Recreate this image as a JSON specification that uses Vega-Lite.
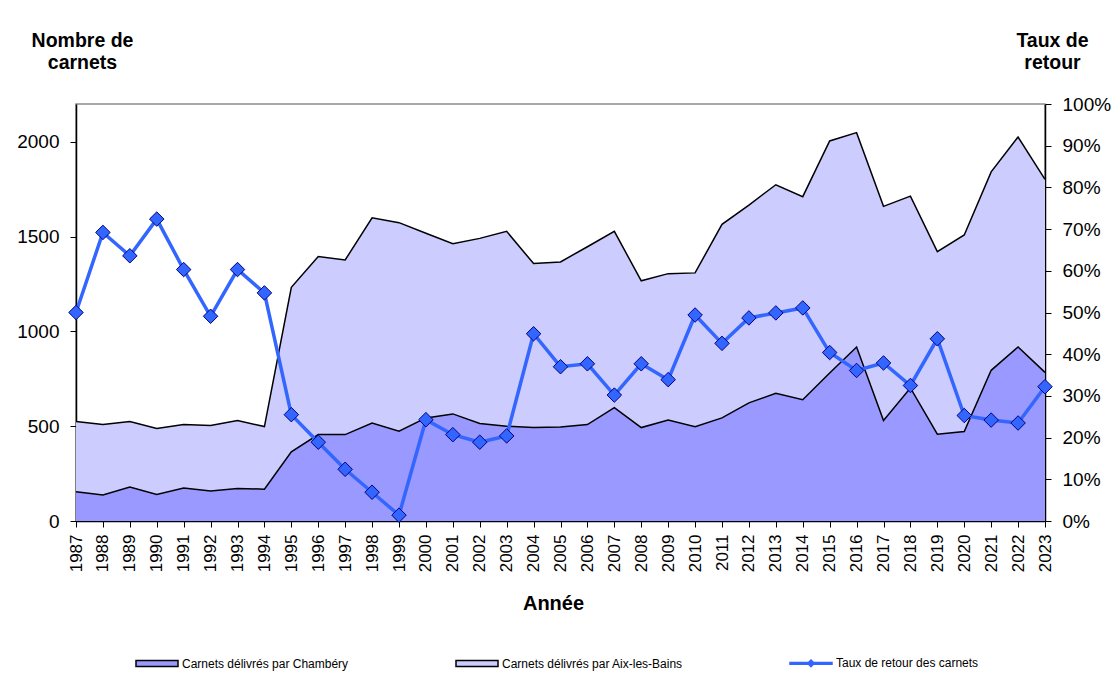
{
  "$schema": "https://vega.github.io/schema/vega-lite/v6.json",
  "width": 969,
  "height": 417,
  "autosize": {"type": "none"},
  "padding": {"left": 76, "top": 104, "right": 68, "bottom": 172},
  "background": "white",
  "config": {
    "font": "Liberation Sans",
    "view": {"stroke": "#8c8c8c", "strokeWidth": 1.5},
    "axis": {
      "grid": false,
      "domainColor": "black",
      "domainWidth": 1.5,
      "tickColor": "black",
      "tickSize": 6,
      "tickWidth": 1,
      "labelColor": "black",
      "titleColor": "black",
      "labelFont": "Liberation Sans",
      "titleFont": "Liberation Sans"
    }
  },
  "datasets": {
    "carnets": [
      {"annee": 1987, "serie": "Carnets délivrés par Chambéry", "n": 154},
      {"annee": 1987, "serie": "Carnets délivrés par Aix-les-Bains", "n": 371},
      {"annee": 1988, "serie": "Carnets délivrés par Chambéry", "n": 137},
      {"annee": 1988, "serie": "Carnets délivrés par Aix-les-Bains", "n": 372},
      {"annee": 1989, "serie": "Carnets délivrés par Chambéry", "n": 179},
      {"annee": 1989, "serie": "Carnets délivrés par Aix-les-Bains", "n": 346},
      {"annee": 1990, "serie": "Carnets délivrés par Chambéry", "n": 140},
      {"annee": 1990, "serie": "Carnets délivrés par Aix-les-Bains", "n": 348},
      {"annee": 1991, "serie": "Carnets délivrés par Chambéry", "n": 174},
      {"annee": 1991, "serie": "Carnets délivrés par Aix-les-Bains", "n": 335},
      {"annee": 1992, "serie": "Carnets délivrés par Chambéry", "n": 158},
      {"annee": 1992, "serie": "Carnets délivrés par Aix-les-Bains", "n": 346},
      {"annee": 1993, "serie": "Carnets délivrés par Chambéry", "n": 172},
      {"annee": 1993, "serie": "Carnets délivrés par Aix-les-Bains", "n": 358},
      {"annee": 1994, "serie": "Carnets délivrés par Chambéry", "n": 168},
      {"annee": 1994, "serie": "Carnets délivrés par Aix-les-Bains", "n": 330},
      {"annee": 1995, "serie": "Carnets délivrés par Chambéry", "n": 365},
      {"annee": 1995, "serie": "Carnets délivrés par Aix-les-Bains", "n": 868},
      {"annee": 1996, "serie": "Carnets délivrés par Chambéry", "n": 456},
      {"annee": 1996, "serie": "Carnets délivrés par Aix-les-Bains", "n": 939},
      {"annee": 1997, "serie": "Carnets délivrés par Chambéry", "n": 456},
      {"annee": 1997, "serie": "Carnets délivrés par Aix-les-Bains", "n": 921},
      {"annee": 1998, "serie": "Carnets délivrés par Chambéry", "n": 517},
      {"annee": 1998, "serie": "Carnets délivrés par Aix-les-Bains", "n": 1083},
      {"annee": 1999, "serie": "Carnets délivrés par Chambéry", "n": 474},
      {"annee": 1999, "serie": "Carnets délivrés par Aix-les-Bains", "n": 1100},
      {"annee": 2000, "serie": "Carnets délivrés par Chambéry", "n": 544},
      {"annee": 2000, "serie": "Carnets délivrés par Aix-les-Bains", "n": 974},
      {"annee": 2001, "serie": "Carnets délivrés par Chambéry", "n": 565},
      {"annee": 2001, "serie": "Carnets délivrés par Aix-les-Bains", "n": 898},
      {"annee": 2002, "serie": "Carnets délivrés par Chambéry", "n": 514},
      {"annee": 2002, "serie": "Carnets délivrés par Aix-les-Bains", "n": 977},
      {"annee": 2003, "serie": "Carnets délivrés par Chambéry", "n": 500},
      {"annee": 2003, "serie": "Carnets délivrés par Aix-les-Bains", "n": 1028},
      {"annee": 2004, "serie": "Carnets délivrés par Chambéry", "n": 493},
      {"annee": 2004, "serie": "Carnets délivrés par Aix-les-Bains", "n": 865},
      {"annee": 2005, "serie": "Carnets délivrés par Chambéry", "n": 496},
      {"annee": 2005, "serie": "Carnets délivrés par Aix-les-Bains", "n": 871},
      {"annee": 2006, "serie": "Carnets délivrés par Chambéry", "n": 509},
      {"annee": 2006, "serie": "Carnets délivrés par Aix-les-Bains", "n": 938},
      {"annee": 2007, "serie": "Carnets délivrés par Chambéry", "n": 598},
      {"annee": 2007, "serie": "Carnets délivrés par Aix-les-Bains", "n": 930},
      {"annee": 2008, "serie": "Carnets délivrés par Chambéry", "n": 493},
      {"annee": 2008, "serie": "Carnets délivrés par Aix-les-Bains", "n": 774},
      {"annee": 2009, "serie": "Carnets délivrés par Chambéry", "n": 533},
      {"annee": 2009, "serie": "Carnets délivrés par Aix-les-Bains", "n": 772},
      {"annee": 2010, "serie": "Carnets délivrés par Chambéry", "n": 498},
      {"annee": 2010, "serie": "Carnets délivrés par Aix-les-Bains", "n": 811},
      {"annee": 2011, "serie": "Carnets délivrés par Chambéry", "n": 544},
      {"annee": 2011, "serie": "Carnets délivrés par Aix-les-Bains", "n": 1021},
      {"annee": 2012, "serie": "Carnets délivrés par Chambéry", "n": 623},
      {"annee": 2012, "serie": "Carnets délivrés par Aix-les-Bains", "n": 1044},
      {"annee": 2013, "serie": "Carnets délivrés par Chambéry", "n": 674},
      {"annee": 2013, "serie": "Carnets délivrés par Aix-les-Bains", "n": 1100},
      {"annee": 2014, "serie": "Carnets délivrés par Chambéry", "n": 640},
      {"annee": 2014, "serie": "Carnets délivrés par Aix-les-Bains", "n": 1071},
      {"annee": 2015, "serie": "Carnets délivrés par Chambéry", "n": 781},
      {"annee": 2015, "serie": "Carnets délivrés par Aix-les-Bains", "n": 1224},
      {"annee": 2016, "serie": "Carnets délivrés par Chambéry", "n": 918},
      {"annee": 2016, "serie": "Carnets délivrés par Aix-les-Bains", "n": 1131},
      {"annee": 2017, "serie": "Carnets délivrés par Chambéry", "n": 530},
      {"annee": 2017, "serie": "Carnets délivrés par Aix-les-Bains", "n": 1130},
      {"annee": 2018, "serie": "Carnets délivrés par Chambéry", "n": 702},
      {"annee": 2018, "serie": "Carnets délivrés par Aix-les-Bains", "n": 1012},
      {"annee": 2019, "serie": "Carnets délivrés par Chambéry", "n": 458},
      {"annee": 2019, "serie": "Carnets délivrés par Aix-les-Bains", "n": 963},
      {"annee": 2020, "serie": "Carnets délivrés par Chambéry", "n": 472},
      {"annee": 2020, "serie": "Carnets délivrés par Aix-les-Bains", "n": 1037},
      {"annee": 2021, "serie": "Carnets délivrés par Chambéry", "n": 795},
      {"annee": 2021, "serie": "Carnets délivrés par Aix-les-Bains", "n": 1047},
      {"annee": 2022, "serie": "Carnets délivrés par Chambéry", "n": 918},
      {"annee": 2022, "serie": "Carnets délivrés par Aix-les-Bains", "n": 1108},
      {"annee": 2023, "serie": "Carnets délivrés par Chambéry", "n": 784},
      {"annee": 2023, "serie": "Carnets délivrés par Aix-les-Bains", "n": 1018}
    ],
    "taux": [
      {"annee": 1987, "taux": 0.500},
      {"annee": 1988, "taux": 0.692},
      {"annee": 1989, "taux": 0.636},
      {"annee": 1990, "taux": 0.724},
      {"annee": 1991, "taux": 0.603},
      {"annee": 1992, "taux": 0.491},
      {"annee": 1993, "taux": 0.603},
      {"annee": 1994, "taux": 0.547},
      {"annee": 1995, "taux": 0.255},
      {"annee": 1996, "taux": 0.189},
      {"annee": 1997, "taux": 0.124},
      {"annee": 1998, "taux": 0.069},
      {"annee": 1999, "taux": 0.014},
      {"annee": 2000, "taux": 0.243},
      {"annee": 2001, "taux": 0.207},
      {"annee": 2002, "taux": 0.189},
      {"annee": 2003, "taux": 0.204},
      {"annee": 2004, "taux": 0.449},
      {"annee": 2005, "taux": 0.370},
      {"annee": 2006, "taux": 0.377},
      {"annee": 2007, "taux": 0.302},
      {"annee": 2008, "taux": 0.377},
      {"annee": 2009, "taux": 0.339},
      {"annee": 2010, "taux": 0.494},
      {"annee": 2011, "taux": 0.426},
      {"annee": 2012, "taux": 0.487},
      {"annee": 2013, "taux": 0.499},
      {"annee": 2014, "taux": 0.511},
      {"annee": 2015, "taux": 0.404},
      {"annee": 2016, "taux": 0.361},
      {"annee": 2017, "taux": 0.379},
      {"annee": 2018, "taux": 0.325},
      {"annee": 2019, "taux": 0.437},
      {"annee": 2020, "taux": 0.253},
      {"annee": 2021, "taux": 0.242},
      {"annee": 2022, "taux": 0.235},
      {"annee": 2023, "taux": 0.322}
    ]
  },
  "encoding": {
    "x": {
      "field": "annee",
      "type": "ordinal",
      "scale": {"type": "point", "padding": 0},
      "axis": {
        "title": "Année",
        "titleFontSize": 20,
        "titleFontWeight": "bold",
        "titleX": 477,
        "titleY": 88,
        "titleAlign": "center",
        "titleBaseline": "alphabetic",
        "labelAngle": -90,
        "labelFontSize": 17,
        "labelPadding": 7
      }
    }
  },
  "layer": [
    {
      "data": {"name": "carnets"},
      "transform": [
        {"stack": "n", "groupby": ["annee"], "sort": [{"field": "serie", "order": "descending"}], "as": ["y0", "y1"]}
      ],
      "encoding": {
        "y": {
          "field": "y1",
          "type": "quantitative",
          "scale": {"domain": [0, 2200], "nice": false},
          "axis": {
            "orient": "left",
            "values": [0, 500, 1000, 1500, 2000],
            "format": "d",
            "labelFontSize": 19,
            "labelPadding": 11,
            "title": ["Nombre de", "carnets"],
            "titleAngle": 0,
            "titleAlign": "center",
            "titleBaseline": "alphabetic",
            "titleX": 6,
            "titleY": -58,
            "titleFontSize": 19.5,
            "titleFontWeight": "bold",
            "titleLineHeight": 22
          }
        }
      },
      "layer": [
        {
          "mark": {"type": "area", "opacity": 1},
          "encoding": {
            "y2": {"field": "y0"},
            "color": {
              "field": "serie",
              "type": "nominal",
              "scale": {
                "domain": ["Carnets délivrés par Chambéry", "Carnets délivrés par Aix-les-Bains", "Taux de retour des carnets"],
                "range": ["#9999FF", "#CCCCFF", "#3366FF"]
              },
              "legend": {
                "title": null,
                "orient": "none",
                "legendX": 59,
                "legendY": 537,
                "direction": "horizontal",
                "columns": 3,
                "columnPadding": 104,
                "labelFont": "Liberation Sans",
                "labelFontSize": 12,
                "labelColor": "black",
                "labelOffset": 3,
                "labelLimit": 0,
                "symbolSize": 1764,
                "symbolStrokeWidth": 1.5,
                "symbolOpacity": 1,
                "encode": {
                  "symbols": {
                    "update": {
                      "size": {"value": 1764},
                      "shape": {"signal": "datum.value === 'Taux de retour des carnets' ? 'M-1,-0.04H1V0.04H-1ZM-0.16,0L0,-0.16L0.16,0L0,0.16Z' : 'M-1,-0.14H1V0.14H-1Z'"},
                      "fill": {"signal": "scale('color', datum.value)"},
                      "stroke": {"signal": "datum.value === 'Taux de retour des carnets' ? '#3366FF' : '#000000'"},
                      "strokeWidth": {"value": 1.5},
                      "strokeOpacity": {"value": 1},
                      "fillOpacity": {"value": 1},
                      "opacity": {"value": 1}
                    }
                  }
                }
              }
            }
          }
        },
        {
          "mark": {"type": "line", "color": "black", "strokeWidth": 1.5},
          "encoding": {
            "detail": {"field": "serie", "type": "nominal"}
          }
        }
      ]
    },
    {
      "data": {"name": "taux"},
      "encoding": {
        "y": {
          "field": "taux",
          "type": "quantitative",
          "scale": {"domain": [0, 1], "nice": false},
          "axis": {
            "orient": "right",
            "values": [0, 0.1, 0.2, 0.3, 0.4, 0.5, 0.6, 0.7, 0.8, 0.9, 1],
            "format": ".0%",
            "labelFontSize": 19,
            "labelPadding": 11,
            "title": ["Taux de", "retour"],
            "titleAngle": 0,
            "titleAlign": "center",
            "titleBaseline": "alphabetic",
            "titleX": 7,
            "titleY": -58,
            "titleFontSize": 19.5,
            "titleFontWeight": "bold",
            "titleLineHeight": 22
          }
        }
      },
      "layer": [
        {
          "mark": {"type": "line", "strokeWidth": 3.5, "color": "#3366FF"}
        },
        {
          "mark": {"type": "point", "shape": "diamond", "filled": true, "size": 210, "stroke": "#000080", "strokeWidth": 1, "opacity": 1},
          "encoding": {
            "color": {"datum": "Taux de retour des carnets", "type": "nominal"}
          }
        }
      ]
    }
  ],
  "resolve": {"scale": {"y": "independent"}}
}
